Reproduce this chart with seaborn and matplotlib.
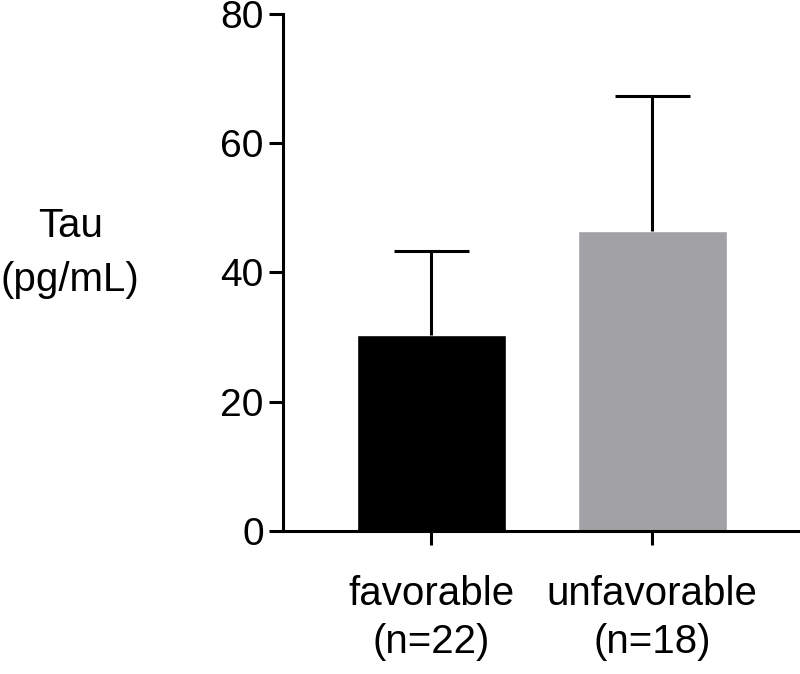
import matplotlib
matplotlib.use("Agg")
import matplotlib.pyplot as plt
import seaborn as sns
import pandas as pd

# values
groups = ["favorable\n(n=22)", "unfavorable\n(n=18)"]
means = [30.3, 46.4]
sd = [13.1, 21.0]
colors = ["#000000", "#a2a1a5"]
yticks = [0, 20, 40, 60, 80]

sns.set_style("ticks")
plt.rcParams["font.family"] = ["Liberation Sans", "DejaVu Sans"]

df = pd.DataFrame({"group": groups, "tau": means})

fig = plt.figure(figsize=(8, 6.74), dpi=100)
ax = fig.add_axes([0.354, 0.2129, 0.645, 0.7656])

sns.barplot(data=df, x="group", y="tau", hue="group", palette=colors,
            width=0.674, saturation=1, legend=False, ax=ax)

# upper-only error bars (SD), no cap at the bar top
xs = list(range(len(groups)))
tops = [m + s for m, s in zip(means, sd)]
ax.vlines(xs, means, tops, color="black", linewidth=2.2, zorder=1)
ax.hlines(tops, [x - 0.17 for x in xs], [x + 0.17 for x in xs],
          color="black", linewidth=2.2, zorder=1)

ax.set_xlim(-0.67, 1.665)
ax.set_ylim(0, 80)
ax.set_yticks(yticks)
ax.set_xlabel("")
ax.set_ylabel("Tau\n(pg/mL)", rotation=0, fontsize=29, ha="center", va="center",
              color="black", linespacing=1.55)
ax.yaxis.set_label_coords(-0.413, 0.538)

for s in ["top", "right"]:
    ax.spines[s].set_visible(False)
for s in ["left", "bottom"]:
    ax.spines[s].set_linewidth(2.2)
    ax.spines[s].set_color("black")
ax.tick_params(axis="both", width=2.2, length=10, colors="black", labelsize=28)
ax.tick_params(axis="y", pad=4)
ax.tick_params(axis="x", pad=22, labelsize=29)
for lab in ax.get_xticklabels():
    lab.set_linespacing(1.35)

fig.savefig("out.png", dpi=100)
